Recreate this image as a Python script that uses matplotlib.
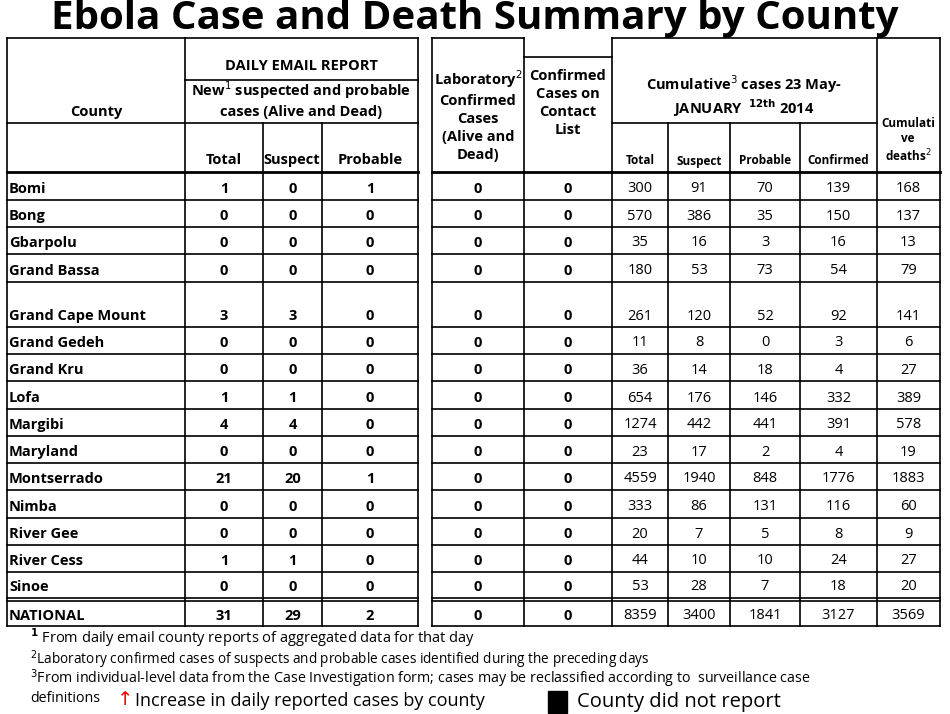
import matplotlib
matplotlib.use('Agg')
import matplotlib.pyplot as plt

counties = ['Bomi', 'Bong', 'Gbarpolu', 'Grand Bassa', 'Grand Cape Mount', 'Grand Gedeh',
            'Grand Kru', 'Lofa', 'Margibi', 'Maryland', 'Montserrado', 'Nimba',
            'River Gee', 'River Cess', 'Sinoe', 'NATIONAL']
new_total = [1, 0, 0, 0, 3, 0, 0, 1, 4, 0, 21, 0, 0, 1, 0, 31]
new_suspect = [0, 0, 0, 0, 3, 0, 0, 1, 4, 0, 20, 0, 0, 1, 0, 29]
new_probable = [1, 0, 0, 0, 0, 0, 0, 0, 0, 0, 1, 0, 0, 0, 0, 2]
lab_confirmed = [0] * 16
contact_confirmed = [0] * 16
cum_total = [300, 570, 35, 180, 261, 11, 36, 654, 1274, 23, 4559, 333, 20, 44, 53, 8359]
cum_suspect = [91, 386, 16, 53, 120, 8, 14, 176, 442, 17, 1940, 86, 7, 10, 28, 3400]
cum_probable = [70, 35, 3, 73, 52, 0, 18, 146, 441, 2, 848, 131, 5, 10, 7, 1841]
cum_confirmed = [139, 150, 16, 54, 92, 3, 4, 332, 391, 4, 1776, 116, 8, 24, 18, 3127]
cum_deaths = [168, 137, 13, 79, 141, 6, 27, 389, 578, 19, 1883, 60, 9, 27, 20, 3569]

# layout in pixel coordinates
row_edges = [172, 200, 227, 254, 282, 327, 354, 381, 409, 436, 463, 490, 518, 545, 572, 598, 626]
col_edges = [7, 185, 263, 322, 418, 432, 524, 612, 668, 730, 800, 877, 940]

plt.rcParams['font.family'] = ['Open Sans', 'DejaVu Sans']
fig = plt.figure(figsize=(9.5, 7.14), dpi=100)
ax = fig.add_axes([0, 0, 1, 1])
ax.set_xlim(0, 950)
ax.set_ylim(714, 0)
ax.axis('off')

def hl(y, x0, x1, lw=1.2):
    ax.plot([x0, x1], [y, y], color='black', lw=lw)

def vl(x, y0, y1, lw=1.2):
    ax.plot([x, x], [y0, y1], color='black', lw=lw)

ax.text(475, 19, 'Ebola Case and Death Summary by County', ha='center', va='center',
        fontsize=29, fontweight='bold')

top, bot = 38, row_edges[-1]
hl(top, 7, 418); hl(top, 432, 524); hl(top, 612, 940)
hl(57, 524, 612)
hl(80, 185, 418)
hl(123, 7, 418); hl(123, 612, 877)
hl(172, 7, 418, 2); hl(172, 432, 940, 2)
for y in row_edges[1:-2]:
    hl(y, 7, 418); hl(y, 432, 940)
hl(598, 7, 418); hl(598, 432, 940)
hl(601, 7, 418); hl(601, 432, 940)
hl(bot, 7, 418); hl(bot, 432, 940)
vl(7, top, bot); vl(185, top, bot); vl(418, top, bot)
vl(263, 123, bot); vl(322, 123, bot)
vl(432, top, bot); vl(524, top, bot); vl(612, top, bot)
for x in [668, 730, 800]:
    vl(x, 123, bot)
vl(877, top, bot); vl(940, top, bot)

hdr = dict(ha='center', va='center', fontsize=10.5, fontweight='bold')
ax.text(96, 112, 'County', **hdr)
ax.text(301, 66, 'DAILY EMAIL REPORT', **hdr)
ax.text(301, 90, 'New$^1$ suspected and probable', **hdr)
ax.text(301, 112, 'cases (Alive and Dead)', **hdr)
ax.text(224, 160, 'Total', **hdr)
ax.text(292, 160, 'Suspect', **hdr)
ax.text(370, 160, 'Probable', **hdr)
ax.text(478, 115, 'Laboratory$^2$\nConfirmed\nCases\n(Alive and\nDead)', ha='center', va='center',
        fontsize=10.5, fontweight='bold', linespacing=1.35)
ax.text(568, 103, 'Confirmed\nCases on\nContact\nList', ha='center', va='center',
        fontsize=10.5, fontweight='bold', linespacing=1.35)
ax.text(744, 84, 'Cumulative$^3$ cases 23 May-', **hdr)
ax.text(744, 108, 'JANUARY  $^{\\mathbf{12th}}$ 2014', **hdr)
sub = dict(ha='center', va='center', fontsize=8.5, fontweight='bold')
for x0, x1, lab in [(612, 668, 'Total'), (668, 730, 'Suspect'), (730, 800, 'Probable'),
                    (800, 877, 'Confirmed')]:
    ax.text((x0 + x1) / 2, 161, lab, **sub)
ax.text(908, 141, 'Cumulati\nve\ndeaths$^2$', ha='center', va='center', fontsize=8.5,
        fontweight='bold', linespacing=1.2)

cols = [new_total, new_suspect, new_probable, None, lab_confirmed, contact_confirmed,
        cum_total, cum_suspect, cum_probable, cum_confirmed, cum_deaths]
for i, name in enumerate(counties):
    y0, y1 = row_edges[i], row_edges[i + 1]
    yc = y1 - 11 if i != 15 else (601 + y1) / 2 + 2
    ax.text(9, yc, name, ha='left', va='center', fontsize=10.5, fontweight='bold')
    for j, c in enumerate(cols):
        if c is None:
            continue
        xc = (col_edges[j + 1] + col_edges[j + 2]) / 2
        bold = j < 6
        ax.text(xc, yc, str(c[i]), ha='center', va='center', fontsize=10.5,
                fontweight='bold' if bold else 'normal')

ax.text(30, 638, '$\\mathbf{^1}$ From daily email county reports of aggregated data for that day',
        ha='left', va='center', fontsize=10.5)
ax.text(30, 660, '$^2$Laboratory confirmed cases of suspects and probable cases identified during the preceding days',
        ha='left', va='center', fontsize=9.8)
ax.text(30, 679, '$^3$From individual-level data from the Case Investigation form; cases may be reclassified according to  surveillance case',
        ha='left', va='center', fontsize=10.3)
ax.text(30, 698, 'definitions', ha='left', va='center', fontsize=10.3)
ax.text(117, 700, '\u2191', ha='left', va='center', fontsize=14, color='red')
ax.text(135, 701, 'Increase in daily reported cases by county', ha='left', va='center', fontsize=13)
ax.add_patch(plt.Rectangle((548, 691), 19, 22, color='black'))
ax.text(577, 702, 'County did not report', ha='left', va='center', fontsize=14.5)

fig.savefig('out.png', dpi=100)
